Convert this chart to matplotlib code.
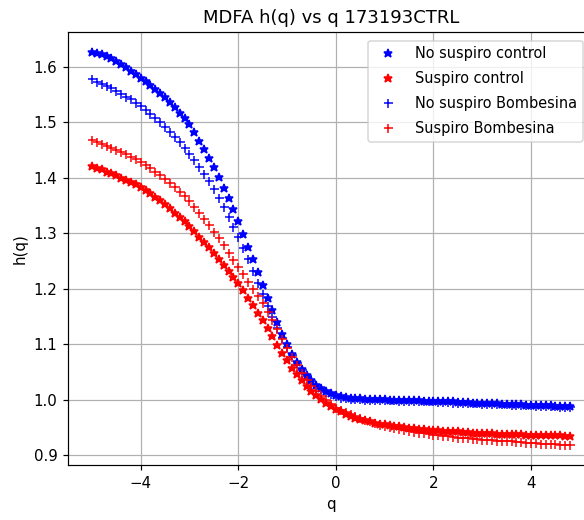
import numpy as np
import matplotlib
matplotlib.use("Agg")
import matplotlib.pyplot as plt

q = np.round(np.arange(-50, 49) / 10.0, 1)  # -5.0 ... 4.8

no_suspiro_control = [
    1.627, 1.625, 1.622, 1.619, 1.615, 1.610, 1.605, 1.599, 1.593, 1.587,
    1.580, 1.574, 1.567, 1.560, 1.553, 1.545, 1.537, 1.527, 1.517, 1.507,
    1.496, 1.482, 1.467, 1.452, 1.436, 1.419, 1.401, 1.382, 1.363, 1.343,
    1.322, 1.299, 1.276, 1.253, 1.230, 1.207, 1.184, 1.162, 1.140, 1.119,
    1.100, 1.083, 1.068, 1.055, 1.044, 1.035, 1.027, 1.021, 1.016, 1.012,
    1.008, 1.006, 1.005, 1.004, 1.003, 1.003,
    1.002, 1.002, 1.001, 1.001, 1.001, 1.000, 1.000, 1.000, 0.999, 0.999,
    0.999, 0.999, 0.998, 0.998, 0.998, 0.998, 0.997, 0.997, 0.997, 0.996,
    0.996, 0.996, 0.995, 0.995, 0.995, 0.994, 0.994, 0.994, 0.993, 0.993,
    0.993, 0.992, 0.992, 0.991, 0.991, 0.991, 0.990, 0.990, 0.990, 0.989,
    0.989, 0.988, 0.988,
]

suspiro_control = [
    1.421, 1.418, 1.415, 1.411, 1.408, 1.404, 1.400, 1.396, 1.392, 1.388,
    1.383, 1.378, 1.372, 1.366, 1.359, 1.352, 1.345, 1.337, 1.330, 1.322,
    1.313, 1.304, 1.294, 1.285, 1.275, 1.265, 1.254, 1.243, 1.232, 1.221,
    1.210, 1.197, 1.184, 1.171, 1.157, 1.144, 1.129, 1.114, 1.099, 1.085,
    1.071, 1.058, 1.046, 1.035, 1.025, 1.016, 1.008, 1.001, 0.995, 0.989,
    0.984, 0.979, 0.975, 0.971, 0.968, 0.965,
    0.963, 0.961, 0.959, 0.957, 0.956, 0.954, 0.953, 0.952, 0.951, 0.950,
    0.949, 0.948, 0.947, 0.946, 0.946, 0.945, 0.944, 0.944, 0.943, 0.943,
    0.942, 0.942, 0.941, 0.941, 0.940, 0.940, 0.940, 0.939, 0.939, 0.939,
    0.938, 0.938, 0.938, 0.937, 0.937, 0.937, 0.937, 0.936, 0.936, 0.936,
    0.936, 0.935, 0.935,
]

no_suspiro_bombesina = [
    1.577, 1.573, 1.569, 1.565, 1.561, 1.556, 1.551, 1.546, 1.541, 1.535,
    1.529, 1.522, 1.515, 1.508, 1.500, 1.492, 1.483, 1.474, 1.464, 1.454,
    1.443, 1.432, 1.420, 1.407, 1.394, 1.380, 1.364, 1.347, 1.330, 1.312,
    1.293, 1.273, 1.253, 1.232, 1.211, 1.190, 1.169, 1.149, 1.130, 1.112,
    1.095, 1.080, 1.066, 1.054, 1.043, 1.034, 1.026, 1.019, 1.014, 1.010,
    1.006, 1.004, 1.003, 1.002, 1.001, 1.001,
    1.000, 1.000, 1.000, 0.999, 0.999, 0.999, 0.999, 0.998, 0.998, 0.998,
    0.998, 0.997, 0.997, 0.997, 0.997, 0.996, 0.996, 0.996, 0.995, 0.995,
    0.995, 0.994, 0.994, 0.994, 0.993, 0.993, 0.993, 0.992, 0.992, 0.992,
    0.991, 0.991, 0.990, 0.990, 0.990, 0.989, 0.989, 0.989, 0.988, 0.988,
    0.987, 0.987, 0.987,
]

suspiro_bombesina = [
    1.468, 1.465, 1.461, 1.458, 1.454, 1.450, 1.446, 1.442, 1.438, 1.433,
    1.428, 1.422, 1.417, 1.411, 1.405, 1.398, 1.391, 1.383, 1.375, 1.367,
    1.358, 1.348, 1.337, 1.326, 1.315, 1.303, 1.291, 1.278, 1.265, 1.252,
    1.239, 1.226, 1.213, 1.200, 1.187, 1.174, 1.159, 1.143, 1.127, 1.110,
    1.093, 1.077, 1.062, 1.049, 1.036, 1.025, 1.015, 1.006, 0.999, 0.993,
    0.986, 0.982, 0.978, 0.974, 0.970, 0.967,
    0.964, 0.961, 0.958, 0.955, 0.953, 0.951, 0.949, 0.947, 0.945, 0.944,
    0.942, 0.941, 0.940, 0.938, 0.937, 0.936, 0.935, 0.934, 0.933, 0.932,
    0.932, 0.931, 0.930, 0.929, 0.928, 0.928, 0.927, 0.926, 0.926, 0.925,
    0.925, 0.924, 0.924, 0.923, 0.922, 0.922, 0.921, 0.921, 0.920, 0.920,
    0.919, 0.919, 0.918,
]

labels = ["No suspiro control", "Suspiro control",
          "No suspiro Bombesina", "Suspiro Bombesina"]

DPI = 108
W, H = 584, 520
fig = plt.figure(figsize=(W / DPI, H / DPI), dpi=DPI)
ax = fig.add_axes([68 / W, 55 / H, (594 - 68) / W, (465 - 32) / H])

ax.plot(q, no_suspiro_control, "b*", label=labels[0])
ax.plot(q, suspiro_control, "r*", label=labels[1])
ax.plot(q, no_suspiro_bombesina, "b+", label=labels[2])
ax.plot(q, suspiro_bombesina, "r+", label=labels[3])

ax.set_title("MDFA h(q) vs q 173193CTRL")
ax.set_xlabel("q")
ax.set_ylabel("h(q)")
ax.grid(True)
ax.legend(loc="upper left", bbox_to_anchor=(368 / W, 1 - 40.5 / H),
          bbox_transform=fig.transFigure, borderaxespad=0,
          fontsize=9.7, labelspacing=0.68)

fig.savefig("out.png", dpi=DPI)
